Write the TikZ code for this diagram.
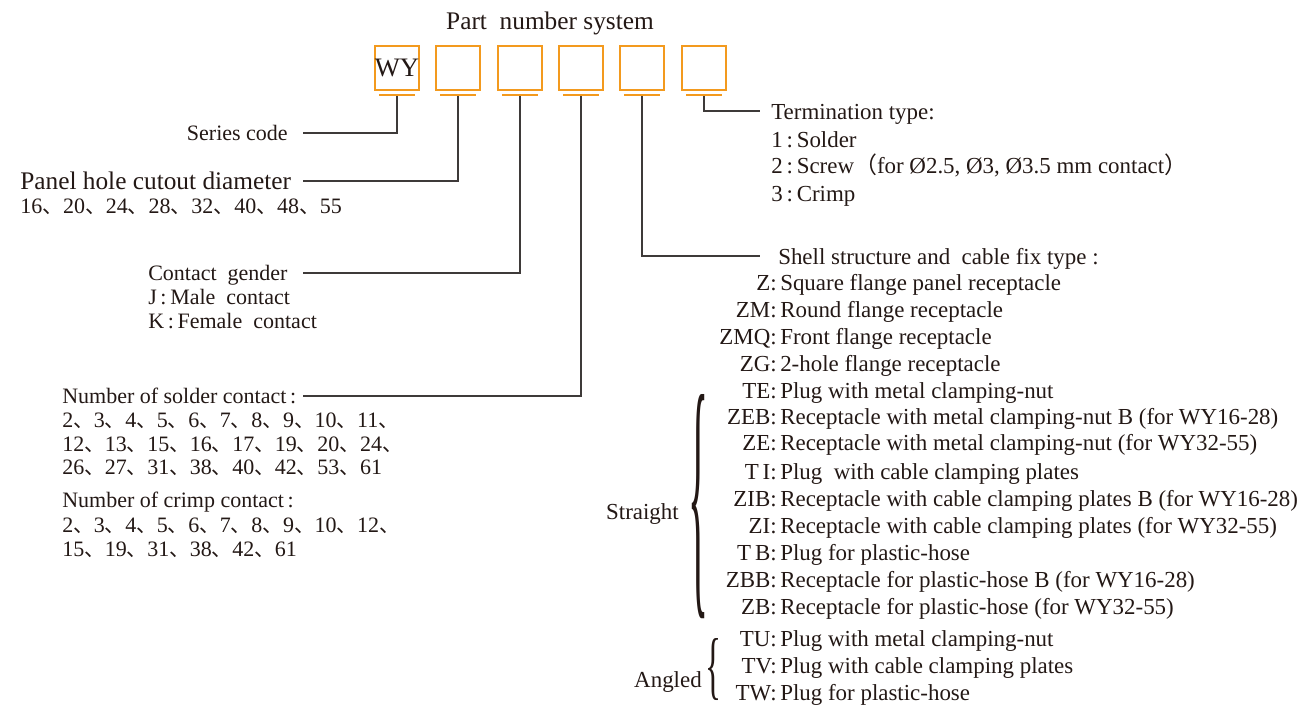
\documentclass[tikz,border=0pt]{standalone}
\usepackage{fontspec}
\setmainfont{Liberation Serif}
\newfontfamily\cjk{Noto Sans CJK SC}
\newcommand{\dn}{{\cjk\fontsize{15.4}{18}\selectfont 、}}
\newcommand{\dm}{{\cjk\fontsize{15.6}{18}\selectfont 、}}
\definecolor{org}{HTML}{F39A1E}
\definecolor{ln}{HTML}{3E3A39}
\definecolor{tx}{HTML}{231815}
\begin{document}
\begin{tikzpicture}[x=0.75pt,y=-0.75pt,
  txt/.style={inner sep=0pt,text=tx,font=\fontsize{16.5}{20}\selectfont,anchor=base west,yshift=-5.8pt},
  txr/.style={txt,font=\fontsize{17.2}{20}\selectfont},
  bigtxt/.style={txt,font=\fontsize{19}{22}\selectfont,yshift=-1pt},
  pbox/.style={draw=org,line width=1.1pt,minimum width=33pt,minimum height=33pt,inner sep=0pt,text=tx,font=\fontsize{20}{20}\selectfont},
  pbar/.style={fill=org,inner sep=0pt,minimum width=27pt,minimum height=1.8pt},
  conn/.style={draw=ln,line width=0.9pt},
  brc/.style={inner sep=0pt,text=tx}
]
\useasboundingbox (0,0) rectangle (1305,705);

\node[bigtxt,anchor=base] (title) at (550,20) {Part\ \ number system};

\foreach \i/\x/\t in {1/397/WY,2/458/,3/520/,4/581/,5/642/,6/704/}{
  \node[pbox] (b\i) at (\x,68) {\t};
  \node[pbar] (u\i) at (\x,95) {};
}

% left side
\node[txt,anchor=base east] (sc) at (288,133) {Series code};
\coordinate (scE) at (303,133);
\draw[conn] (u1.south) |- (scE);

\node[bigtxt] (ph) at (20,180) {Panel hole cutout diameter};
\node[txt] (phl) at (20,206) {16\dm 20\dm 24\dm 28\dm 32\dm 40\dm 48\dm 55};
\coordinate (phE) at (303,181);
\draw[conn] (u2.south) |- (phE);

\node[txt] (cg) at (148,273) {Contact\ \ gender};
\node[txt] (cgj) at (148,297) {J\,:\,Male\ \ contact};
\node[txt] (cgk) at (148,321) {K\,:\,Female\ \ contact};
\coordinate (cgE) at (303,273);
\draw[conn] (u3.south) |- (cgE);

\node[txt] (so) at (62,396) {Number of solder contact\,:};
\node[txt] (so1) at (62,420) {2\dn 3\dn 4\dn 5\dn 6\dn 7\dn 8\dn 9\dn 10\dn 11\dn};
\node[txt] (so2) at (62,444) {12\dn 13\dn 15\dn 16\dn 17\dn 19\dn 20\dn 24\dn};
\node[txt] (so3) at (62,467) {26\dn 27\dn 31\dn 38\dn 40\dn 42\dn 53\dn 61};
\coordinate (soE) at (303,396);
\draw[conn] (u4.south) |- (soE);

\node[txt] (cr) at (62,500) {Number of crimp contact\,:};
\node[txt] (cr1) at (62,525) {2\dn 3\dn 4\dn 5\dn 6\dn 7\dn 8\dn 9\dn 10\dn 12\dn};
\node[txt] (cr2) at (62,549) {15\dn 19\dn 31\dn 38\dn 42\dn 61};

% termination
\node[txr] (tt) at (771,112) {Termination type:};
\node[txr] (tt1) at (771,140) {1\,:\,Solder};
\node[txr] (tt2) at (771,166) {2\,:\,Screw{\cjk （}for Ø2.5, Ø3, Ø3.5 mm contact{\cjk ）}};
\node[txr] (tt3) at (771,194) {3\,:\,Crimp};
\coordinate (ttE) at (760,111);
\draw[conn] (u6.south) |- (ttE);

% shell structure
\node[txr] (sh) at (778,257) {Shell structure and\ \ cable fix type :};
\coordinate (shE) at (760,256);
\draw[conn] (u5.south) |- (shE);

\foreach \n/\y/\c/\d in {
 r1/283/Z/Square flange panel receptacle,
 r2/310/ZM/Round flange receptacle,
 r3/337/ZMQ/Front flange receptacle,
 r4/364/ZG/2-hole flange receptacle,
 r5/391/TE/Plug with metal clamping-nut,
 r6/417/ZEB/Receptacle with metal clamping-nut B (for WY16-28),
 r7/443/ZE/Receptacle with metal clamping-nut (for WY32-55),
 r8/472/T\,I/Plug\ \ with cable clamping plates,
 r9/499/ZIB/Receptacle with cable clamping plates B (for WY16-28),
 r10/526/ZI/Receptacle with cable clamping plates (for WY32-55),
 r11/553/T\,B/Plug for plastic-hose,
 r12/580/ZBB/Receptacle for plastic-hose B (for WY16-28),
 r13/607/ZB/Receptacle for plastic-hose (for WY32-55),
 r14/639/TU/Plug with metal clamping-nut,
 r15/666/TV/Plug with cable clamping plates,
 r16/693/TW/Plug for plastic-hose}{
  \node[txr,anchor=base east] (\n c) at (777,\y) {\c:};
  \node[txr] (\n d) at (780,\y) {\d};
}

\node[txr,anchor=base east] (st) at (679,512) {Straight};
\node[brc] (sbr) at (698,507) {\resizebox{15pt}{141pt}{\{}};

\node[txr,anchor=base east] (an) at (702,680) {Angled};
\node[brc] (abr) at (713,669.5) {\resizebox{12pt}{39pt}{\{}};
\end{tikzpicture}
\end{document}
